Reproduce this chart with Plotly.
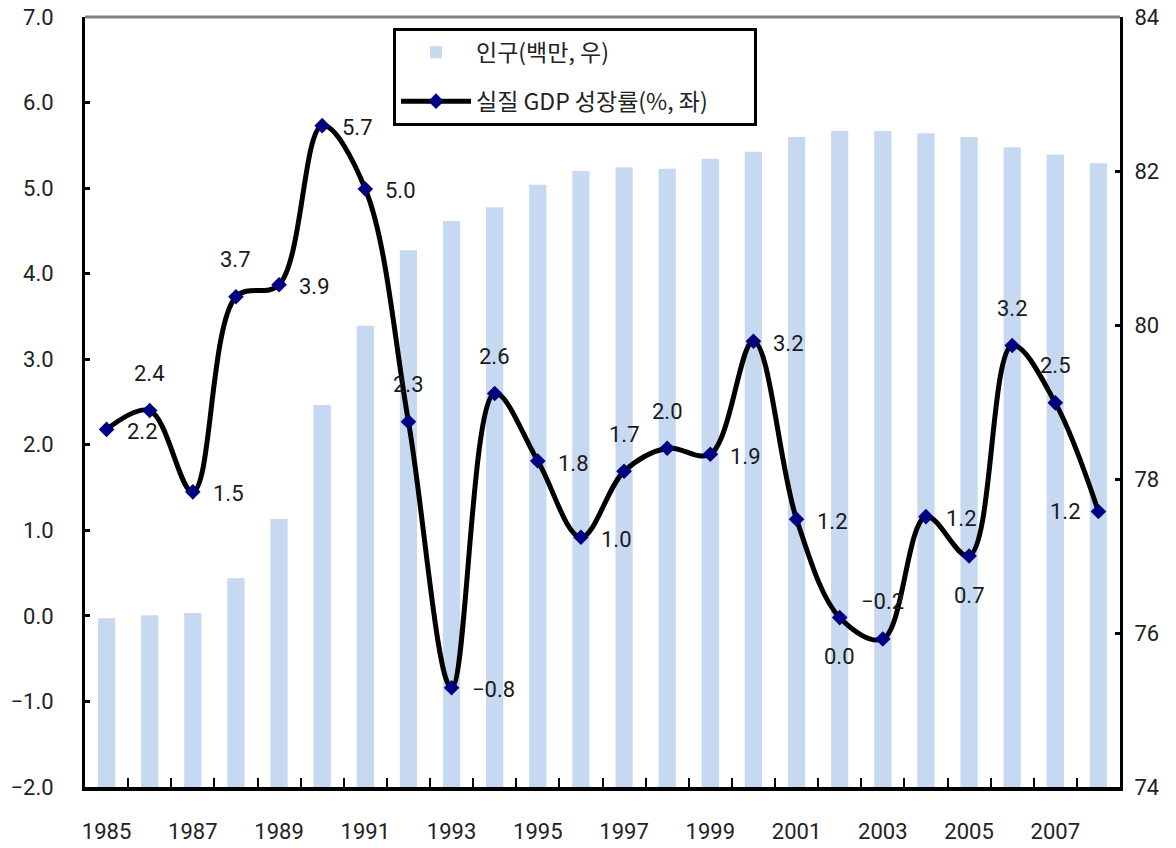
import plotly.graph_objects as go

years = list(range(1985, 2009))
population = [76.19, 76.23, 76.26, 76.71, 77.48, 78.96, 79.99, 80.97, 81.35, 81.53,
              81.82, 82.00, 82.05, 82.03, 82.16, 82.25, 82.44, 82.52, 82.52, 82.49,
              82.44, 82.31, 82.21, 82.10]
gdp_growth = [2.18, 2.40, 1.45, 3.73, 3.87, 5.73, 4.99, 2.27, -0.84, 2.60,
              1.81, 0.92, 1.69, 1.96, 1.89, 3.21, 1.13, -0.02, -0.27, 1.16,
              0.70, 3.16, 2.49, 1.22]
gdp_labels = ["2.2", "2.4", "1.5", "3.7", "3.9", "5.7", "5.0", "2.3", "\u22120.8", "2.6",
              "1.8", "1.0", "1.7", "2.0", "1.9", "3.2", "1.2", "0.0", "\u22120.2", "1.2",
              "0.7", "3.2", "2.5", "1.2"]
label_pos = ["right", "top", "right", "top", "right",
             "right", "right", "top", "right", "top",
             "right", "right", "top", "top", "right",
             "right", "right", "bottom", "top", "right",
             "bottom", "top", "top", "left"]
left_ticks = [-2, -1, 0, 1, 2, 3, 4, 5, 6, 7]
right_ticks = [74, 76, 78, 80, 82, 84]
x_label_years = years[::2]

FONT = "Roboto, Noto Sans CJK KR, sans-serif"
KFONT = "Noto Sans CJK KR, Roboto, sans-serif"
PAD = "\u00a0" * 8

# label placement styles (offset in pixels from the marker)
POS_STYLE = {
    "right": dict(xanchor="left", yanchor="middle", xshift=18, yshift=-2),
    "left": dict(xanchor="right", yanchor="middle", xshift=-15, yshift=0),
    "top": dict(xanchor="center", yanchor="middle", xshift=0, yshift=37),
    "bottom": dict(xanchor="center", yanchor="middle", xshift=0, yshift=-39),
}

fig = go.Figure()
fig.add_trace(go.Bar(
    x=years, y=population, name="인구(백만, 우)", yaxis="y",
    marker=dict(color="#C6D9F1", line=dict(width=0)), width=0.4,
    legendgroup="a",
))
fig.add_trace(go.Scatter(
    x=years, y=gdp_growth, name="실질 GDP 성장률(%, 좌)" + PAD, yaxis="y2",
    mode="lines+markers",
    line=dict(color="black", width=5, shape="spline", smoothing=1.0),
    marker=dict(symbol="diamond", size=12, color="#000080"),
    legendgroup="b", cliponaxis=False,
))

annotations = []
for yr, v, lab, pos in zip(years, gdp_growth, gdp_labels, label_pos):
    annotations.append(dict(
        x=yr, y=v, xref="x", yref="y2", text=lab, showarrow=False,
        font=dict(family=FONT, size=22, color="#1a1a1a"), **POS_STYLE[pos]))

fig.update_layout(
    width=1176, height=848,
    margin=dict(l=85, r=56, t=17, b=61, autoexpand=False),
    paper_bgcolor="white", plot_bgcolor="white",
    font=dict(family=FONT, size=22, color="#222"),
    showlegend=True,
    legend=dict(
        x=0.2976, y=0.986, xanchor="left", yanchor="top",
        bgcolor="white", bordercolor="black", borderwidth=3,
        font=dict(family=KFONT, size=23, color="#222"),
        tracegroupgap=16, itemwidth=70,
    ),
    xaxis=dict(
        range=[1984.5, 2008.5], tickmode="array", tickvals=x_label_years,
        ticks="", showline=True, linecolor="black", linewidth=4,
        showgrid=False, zeroline=False, ticklabelstandoff=22, automargin=False,
        tickfont=dict(size=22, color="#222"), ticklabeloverflow="allow",
        minor=dict(tickmode="array", tickvals=[y + 0.5 for y in years[:-1]],
                   ticks="inside", ticklen=9, tickwidth=2, tickcolor="black",
                   showgrid=False),
    ),
    yaxis=dict(
        side="right", range=[74, 84], tickmode="array", tickvals=right_ticks,
        showline=True, linecolor="black", linewidth=3, ticks="inside",
        ticklen=5, tickwidth=3, tickcolor="black", showgrid=False, zeroline=False,
        ticklabelstandoff=7, automargin=False, ticklabeloverflow="allow",
        tickfont=dict(size=22, color="#222"),
    ),
    yaxis2=dict(
        overlaying="y", side="left", range=[-2, 7], tickmode="array",
        tickvals=left_ticks, tickformat=".1f",
        showline=True, linecolor="black", linewidth=3, ticks="inside",
        ticklen=5, tickwidth=3, tickcolor="black", showgrid=False, zeroline=False,
        ticklabelstandoff=24, automargin=False, ticklabeloverflow="allow",
        tickfont=dict(size=22, color="#222"),
    ),
    annotations=annotations,
    shapes=[dict(type="line", xref="paper", yref="paper", x0=0, x1=1, y0=1, y1=1,
                 line=dict(color="#808080", width=3))],
)

# remove the default 8px page margin so the figure fills the window exactly
fig.write_html("out.html", config={"displayModeBar": False},
               post_script="document.body.style.margin='0px';")
